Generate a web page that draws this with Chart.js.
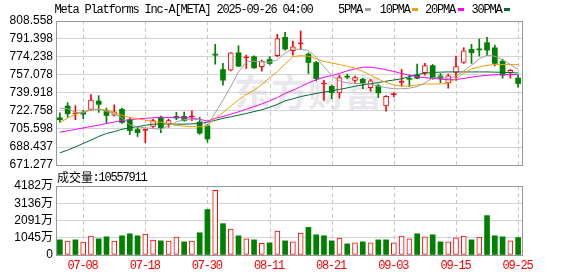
<!DOCTYPE html>
<html>
<head>
<meta charset="utf-8">
<script src="https://cdn.jsdelivr.net/npm/chart.js@4.4.0/dist/chart.umd.min.js"></script>
<style>
  html, body { margin: 0; padding: 0; background: #fff; }
  #wrap { position: relative; width: 578px; height: 276px; }
  #kline { position: absolute; left: 0; top: 0; }
  #vol { position: absolute; left: 0; top: 176px; }
</style>
</head>
<body>
<div id="wrap">
  <canvas id="kline" width="578" height="184"></canvas>
  <canvas id="vol" width="578" height="100"></canvas>
</div>
<script>
var dates = ['07-02','07-03','07-07','07-08','07-09','07-10','07-11','07-14','07-15','07-16',
  '07-17','07-18','07-21','07-22','07-23','07-24','07-25','07-28','07-29','07-30',
  '07-31','08-01','08-04','08-05','08-06','08-07','08-08','08-11','08-12','08-13',
  '08-14','08-15','08-18','08-19','08-20','08-21','08-22','08-25','08-26','08-27',
  '08-28','08-29','09-02','09-03','09-04','09-05','09-08','09-09','09-10','09-11',
  '09-12','09-15','09-16','09-17','09-18','09-19','09-22','09-23','09-24','09-25'];

var openP = [716.3,727.5,720.0,721.7,724.3,732.3,723.0,718.8,724.3,714.4,
  705.1,704.3,708.0,716.9,710.2,717.6,717.6,717.3,712.1,708.6,
  776.5,762.3,761.7,778.3,773.4,774.5,764.9,771.9,775.4,793.0,
  780.2,786.7,777.0,769.0,748.5,746.3,740.0,755.5,752.0,753.0,
  745.0,746.8,727.5,738.3,750.0,753.5,757.0,759.2,766.0,756.2,
  749.5,759.5,769.0,781.5,781.5,787.9,783.0,770.3,759.4,754.2];
var highP = [721.1,730.7,727.8,723.5,738.3,737.4,725.6,728.7,725.6,716.0,
  708.0,705.7,714.7,717.9,715.0,721.5,721.7,723.0,716.6,710.0,
  786.3,768.1,778.5,785.0,776.0,775.4,771.3,774.5,795.9,797.8,
  789.5,799.0,778.3,770.0,752.1,747.3,757.0,758.0,756.0,754.0,
  753.0,748.0,737.4,740.0,762.5,757.0,767.5,768.1,767.1,758.5,
  758.0,775.0,783.1,786.3,791.4,793.0,785.6,772.2,762.3,756.9];
var lowP = [712.1,716.9,714.4,715.5,723.3,721.4,711.5,717.9,710.9,700.3,
  698.4,692.6,707.0,702.2,707.3,714.5,713.0,713.5,700.5,693.0,
  767.4,747.3,761.0,764.9,763.3,763.3,760.7,767.1,774.5,780.8,
  776.0,781.5,758.5,751.4,732.9,734.5,735.0,753.5,750.0,744.0,
  741.5,735.5,722.7,736.1,746.5,746.0,753.5,756.9,753.0,749.8,
  744.5,752.0,768.1,768.1,775.1,775.4,765.8,754.0,754.0,745.5];
var closeP = [714.4,720.1,720.5,719.8,733.2,729.1,718.5,722.0,711.8,704.1,
  702.2,704.8,713.7,706.7,713.7,716.0,713.7,717.8,701.6,696.1,
  776.0,752.1,778.3,765.5,773.9,763.9,770.3,768.1,791.7,781.8,
  784.0,787.2,769.0,753.7,749.0,740.3,754.5,755.0,754.6,749.6,
  751.5,740.0,736.7,738.7,750.5,753.0,754.0,766.0,753.5,753.7,
  756.3,765.0,780.2,778.3,781.0,780.8,768.1,756.9,761.5,748.9];

var ma5 = [725.5,725.0,721.5,721.0,724.0,724.5,722.3,720.5,716.0,709.5,
  707.5,706.8,706.0,705.4,708.5,712.5,714.5,715.0,714.5,709.0,
  721.0,733.0,746.0,760.0,769.5,770.2,769.5,769.5,771.5,778.0,
  782.0,781.4,780.5,774.0,765.0,756.5,751.5,749.5,749.0,749.0,
  748.0,746.5,745.0,744.0,744.0,744.5,746.0,749.5,754.3,755.3,
  753.5,756.0,761.0,766.5,772.5,776.0,775.0,771.5,767.0,762.5];
var ma10 = [711.7,716.0,719.5,722.0,723.5,724.6,723.8,721.5,718.5,716.5,
  715.4,714.0,712.8,712.1,710.5,709.0,708.3,707.9,707.6,708.4,
  715.5,721.3,727.5,733.5,738.3,742.5,748.0,754.5,760.3,767.5,
  774.6,775.5,775.0,772.5,770.0,768.6,767.0,765.5,763.5,760.5,
  757.0,753.0,750.0,747.5,746.5,746.6,747.6,748.5,748.5,748.6,
  749.5,753.5,759.0,762.8,764.8,766.3,767.0,767.0,767.0,767.0];
var ma20 = [702.6,703.8,705.2,706.6,708.0,709.3,710.8,712.2,713.5,714.5,
  715.2,715.8,716.3,716.5,716.5,716.5,716.4,716.0,714.8,713.2,
  715.8,717.5,719.6,722.0,724.5,727.0,729.5,732.5,735.5,739.5,
  742.5,746.0,749.5,752.5,755.0,756.5,758.5,761.0,763.0,764.5,
  764.5,763.5,762.0,760.5,758.5,757.0,755.5,754.5,753.8,753.2,
  752.5,752.8,753.8,755.0,756.0,756.8,757.3,757.5,757.5,757.5];
var ma30 = [682.9,685.5,688.5,691.8,695.0,698.5,701.3,703.1,705.3,706.7,
  707.9,709.1,710.2,710.4,710.5,710.2,710.2,710.5,710.9,712.2,
  713.8,715.8,717.2,718.8,720.4,722.2,723.9,726.3,729.0,732.5,
  734.3,736.5,738.0,739.5,740.7,742.0,743.3,744.8,746.3,747.6,
  748.8,749.8,751.2,752.3,753.5,755.5,757.5,758.8,759.5,759.8,
  760.0,760.0,760.0,760.0,760.0,760.0,759.8,759.6,759.3,759.0];

// volume in 万 shares, and whether the bar is drawn red (up)
var volume = [918,838,918,776,1143,980,1102,838,1163,1286,
  1163,1265,898,857,838,1082,796,838,1347,2755,
  3919,1898,1572,1163,980,918,714,735,1449,857,
  796,1327,1674,1225,1163,857,1020,673,735,796,
  735,918,918,735,1143,980,1286,1102,1225,796,
  796,1041,1143,918,1082,2388,1163,1102,857,1055.7911];
var volUp = [0,1,0,1,1,0,0,1,0,0,
  0,1,1,0,1,1,0,1,0,0,
  1,0,1,0,1,0,1,0,1,0,
  1,1,0,0,0,0,1,0,1,0,
  1,0,0,1,1,1,0,1,0,0,
  1,1,1,0,1,0,0,0,1,0];

var priceTicks = [671.277, 688.437, 705.598, 722.758, 739.918, 757.078, 774.238, 791.398, 808.558];
var volTicks = [0, 1045, 2091, 3136, 4182];
var volTickLabels = ['0', '1045万', '2091万', '3136万', '4182万'];
var xTickLabels = ['07-08', '07-18', '07-30', '08-11', '08-21', '09-03', '09-15', '09-25'];
var maNames = ['5PMA', '10PMA', '20PMA', '30PMA'];
var maColors = ['#a0a0a0', '#f0a000', '#ff00ff', '#006a35'];

var RED = '#ff0000', GREEN = '#008000';
var FONT = '"Liberation Sans", "Noto Sans CJK SC", sans-serif';

function isUp(i) { return closeP[i] >= openP[i]; }

// draw text on a fixed cell grid, like the bitmap font of the original
function monoText(ctx, str, x, y, color) {
  ctx.save();
  ctx.fillStyle = color;
  ctx.textBaseline = 'middle';
  ctx.textAlign = 'center';
  for (var k = 0; k < str.length; k++) {
    var ch = str[k];
    var wide = ch.charCodeAt(0) > 255;
    var cell = wide ? 12 : 6;
    ctx.font = wide ? '12px "Noto Sans CJK SC"' : '12px "Liberation Mono"';
    ctx.fillText(ch, x + cell / 2, y);
    x += cell;
  }
  ctx.restore();
  return x;
}

function dashedDays(chart) {
  var a = chart.chartArea, ctx = chart.ctx, xs = chart.scales.x;
  ctx.save();
  ctx.strokeStyle = '#c8c8c8';
  ctx.lineWidth = 1;
  ctx.setLineDash([4, 3]);
  xTickLabels.forEach(function (d) {
    var x = Math.round(xs.getPixelForValue(dates.indexOf(d))) + 0.5;
    ctx.beginPath();
    ctx.moveTo(x, a.top);
    ctx.lineTo(x, a.bottom);
    ctx.stroke();
  });
  ctx.restore();
}

function frame(chart) {
  var a = chart.chartArea, ctx = chart.ctx;
  ctx.save();
  ctx.strokeStyle = '#999';
  ctx.lineWidth = 1;
  ctx.strokeRect(Math.round(a.left) + 0.5, Math.round(a.top) + 0.5,
    Math.round(a.right - a.left), Math.round(a.bottom - a.top));
  ctx.restore();
}

var klinePlugin = {
  id: 'klineDeco',
  beforeDatasetsDraw: function (chart) {
    var ctx = chart.ctx;
    ctx.save();
    ctx.fillStyle = 'rgba(205,205,215,0.45)';
    ctx.font = 'bold 37px "Noto Sans CJK SC"';
    ctx.textBaseline = 'middle';
    ctx.fillText('东方财富', 234, 93);
    ctx.restore();
    dashedDays(chart);
  },
  afterDatasetsDraw: frame,
  afterDraw: function (chart) {
    var ctx = chart.ctx;
    monoText(ctx, 'Meta Platforms Inc-A[META] 2025-09-26 04:00', 55, 9.5, '#000');
    var lx = [338.7, 380.3, 425.7, 472];
    maNames.forEach(function (n, k) {
      var end = monoText(ctx, n, lx[k], 9.5, '#000');
      ctx.fillStyle = maColors[k];
      ctx.fillRect(Math.round(end + 2), 8, 6, 3);
    });
    monoText(ctx, '成交量:' + (volume[volume.length - 1] * 10000).toFixed(0), 57, 177.7, '#000');
  }
};

var volPlugin = {
  id: 'volDeco',
  beforeDatasetsDraw: dashedDays,
  afterDatasetsDraw: frame,
  afterDraw: function (chart) {
    var ctx = chart.ctx, xs = chart.scales.x, ys = chart.scales.y;
    xTickLabels.forEach(function (d) {
      var x = xs.getPixelForValue(dates.indexOf(d));
      monoText(ctx, d, x - d.length * 3, 90, RED);
    });
    ctx.save();
    ctx.font = '12px ' + FONT;
    ctx.fillStyle = '#000';
    ctx.textAlign = 'right';
    ctx.textBaseline = 'middle';
    volTicks.forEach(function (v, i) {
      ctx.fillText(volTickLabels[i], 53, ys.getPixelForValue(v));
    });
    ctx.restore();
  }
};

function leftAxis(min, max, values, labels, showLabels) {
  return {
    min: min,
    max: max,
    afterBuildTicks: function (s) { s.ticks = values.map(function (v) { return { value: v }; }); },
    afterFit: function (s) { s.width = 56; },
    ticks: {
      display: showLabels,
      autoSkip: false,
      callback: function (v, i) { return labels[i]; },
      font: { family: FONT, size: 12 },
      color: '#000',
      padding: 3
    },
    grid: { color: '#d4d4d4', drawTicks: false },
    border: { display: false }
  };
}

var candleColor = function (c) { return isUp(c.dataIndex) ? RED : GREEN; };

new Chart(document.getElementById('kline'), {
  type: 'bar',
  data: {
    labels: dates,
    datasets: [
      { type: 'line', data: ma5, borderColor: maColors[0], borderWidth: 1, pointRadius: 0, order: -1 },
      { type: 'line', data: ma10, borderColor: maColors[1], borderWidth: 1, pointRadius: 0, order: -1 },
      { type: 'line', data: ma20, borderColor: maColors[2], borderWidth: 1, pointRadius: 0, order: -1 },
      { type: 'line', data: ma30, borderColor: maColors[3], borderWidth: 1, pointRadius: 0, order: -1 },
      {
        data: openP.map(function (o, i) { return [o, closeP[i]]; }),
        grouped: false, barThickness: 5, minBarLength: 1, order: 0,
        borderSkipped: false,
        backgroundColor: function (c) {
          var i = c.dataIndex;
          if (!isUp(i)) return GREEN;
          return Math.abs(closeP[i] - openP[i]) < 1.2 ? RED : '#fff';
        },
        borderColor: candleColor,
        borderWidth: function (c) { return isUp(c.dataIndex) ? 1 : 0; }
      },
      {
        data: lowP.map(function (l, i) { return [l, highP[i]]; }),
        grouped: false, barThickness: 1, order: 1,
        backgroundColor: candleColor
      }
    ]
  },
  options: {
    responsive: false,
    animation: false,
    events: [],
    layout: { padding: { top: 21, right: 56, bottom: 19, left: 0 } },
    plugins: { legend: { display: false }, tooltip: { enabled: false } },
    scales: {
      x: { display: false },
      y: leftAxis(671.277, 808.558, priceTicks, priceTicks.map(function (v) { return v.toFixed(3); }), true)
    }
  },
  plugins: [klinePlugin]
});

new Chart(document.getElementById('vol'), {
  type: 'bar',
  data: {
    labels: dates,
    datasets: [{
      data: volume,
      barThickness: 5,
      borderSkipped: false,
      backgroundColor: function (c) { return volUp[c.dataIndex] ? '#fff' : GREEN; },
      borderColor: function (c) { return volUp[c.dataIndex] ? RED : GREEN; },
      borderWidth: function (c) { return volUp[c.dataIndex] ? 1 : 0; }
    }]
  },
  options: {
    responsive: false,
    animation: false,
    events: [],
    layout: { padding: { top: 10, right: 56, bottom: 21, left: 0 } },
    plugins: { legend: { display: false }, tooltip: { enabled: false } },
    scales: {
      x: { display: false },
      y: leftAxis(0, 4182, volTicks, volTickLabels, false)
    }
  },
  plugins: [volPlugin]
});
</script>
</body>
</html>
